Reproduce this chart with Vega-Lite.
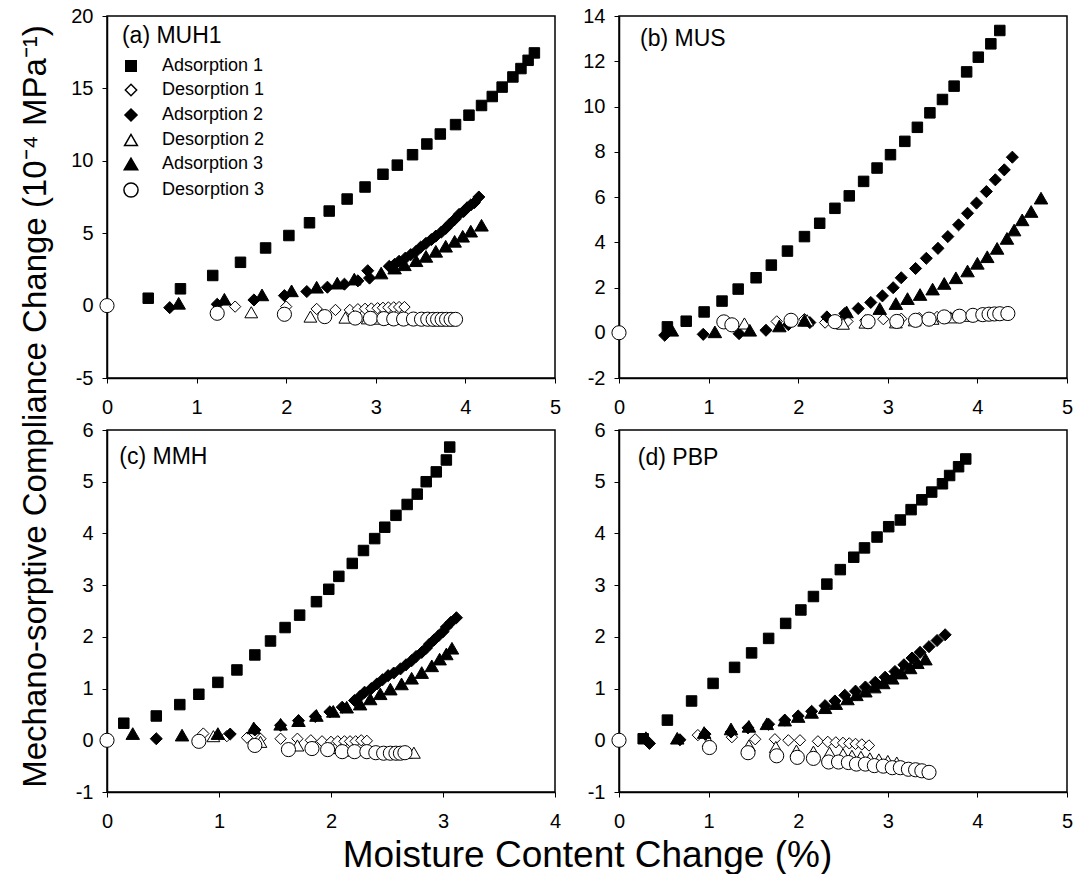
{
"$schema": "https://vega.github.io/schema/vega-lite/v6.json",
"padding": {"left": 18, "top": 5, "right": 0, "bottom": 0},
"datasets": {
"a": [
{"s":"Adsorption 1","x":0.46,"y":0.51},{"s":"Adsorption 1","x":0.82,"y":1.16},{"s":"Adsorption 1","x":1.18,"y":2.08},{"s":"Adsorption 1","x":1.49,"y":2.99},{"s":"Adsorption 1","x":1.77,"y":3.98},{"s":"Adsorption 1","x":2.03,"y":4.84},{"s":"Adsorption 1","x":2.26,"y":5.72},{"s":"Adsorption 1","x":2.48,"y":6.53},{"s":"Adsorption 1","x":2.68,"y":7.36},{"s":"Adsorption 1","x":2.88,"y":8.19},{"s":"Adsorption 1","x":3.08,"y":9.07},{"s":"Adsorption 1","x":3.24,"y":9.7},{"s":"Adsorption 1","x":3.41,"y":10.42},{"s":"Adsorption 1","x":3.57,"y":11.16},{"s":"Adsorption 1","x":3.72,"y":11.85},{"s":"Adsorption 1","x":3.89,"y":12.5},{"s":"Adsorption 1","x":4.04,"y":13.15},{"s":"Adsorption 1","x":4.18,"y":13.82},{"s":"Adsorption 1","x":4.3,"y":14.44},{"s":"Adsorption 1","x":4.41,"y":15.09},{"s":"Adsorption 1","x":4.53,"y":15.79},{"s":"Adsorption 1","x":4.62,"y":16.37},{"s":"Adsorption 1","x":4.7,"y":16.94},{"s":"Adsorption 1","x":4.77,"y":17.45},
{"s":"Desorption 1","x":1.43,"y":-0.07},{"s":"Desorption 1","x":2.0,"y":-0.07},{"s":"Desorption 1","x":2.34,"y":-0.23},{"s":"Desorption 1","x":2.55,"y":-0.3},{"s":"Desorption 1","x":2.71,"y":-0.3},{"s":"Desorption 1","x":2.8,"y":-0.25},{"s":"Desorption 1","x":2.88,"y":-0.22},{"s":"Desorption 1","x":2.95,"y":-0.2},{"s":"Desorption 1","x":3.02,"y":-0.18},{"s":"Desorption 1","x":3.08,"y":-0.15},{"s":"Desorption 1","x":3.14,"y":-0.13},{"s":"Desorption 1","x":3.2,"y":-0.12},{"s":"Desorption 1","x":3.26,"y":-0.1},{"s":"Desorption 1","x":3.32,"y":-0.1},
{"s":"Adsorption 2","x":0.7,"y":-0.14},{"s":"Adsorption 2","x":1.23,"y":0.09},{"s":"Adsorption 2","x":1.64,"y":0.39},{"s":"Adsorption 2","x":1.98,"y":0.69},{"s":"Adsorption 2","x":2.23,"y":0.97},{"s":"Adsorption 2","x":2.46,"y":1.27},{"s":"Adsorption 2","x":2.65,"y":1.48},{"s":"Adsorption 2","x":2.8,"y":1.71},{"s":"Adsorption 2","x":2.91,"y":2.41},{"s":"Adsorption 2","x":2.93,"y":1.9},{"s":"Adsorption 2","x":3.15,"y":2.71},{"s":"Adsorption 2","x":3.21,"y":2.85},{"s":"Adsorption 2","x":3.26,"y":3.06},{"s":"Adsorption 2","x":3.33,"y":3.28},{"s":"Adsorption 2","x":3.39,"y":3.52},{"s":"Adsorption 2","x":3.45,"y":3.75},{"s":"Adsorption 2","x":3.5,"y":4.03},{"s":"Adsorption 2","x":3.56,"y":4.3},{"s":"Adsorption 2","x":3.62,"y":4.56},{"s":"Adsorption 2","x":3.67,"y":4.8},{"s":"Adsorption 2","x":3.73,"y":5.07},{"s":"Adsorption 2","x":3.78,"y":5.33},{"s":"Adsorption 2","x":3.82,"y":5.6},{"s":"Adsorption 2","x":3.88,"y":5.95},{"s":"Adsorption 2","x":3.93,"y":6.3},{"s":"Adsorption 2","x":3.98,"y":6.5},{"s":"Adsorption 2","x":4.02,"y":6.76},{"s":"Adsorption 2","x":4.06,"y":6.95},{"s":"Adsorption 2","x":4.1,"y":7.11},{"s":"Adsorption 2","x":4.15,"y":7.5},
{"s":"Desorption 2","x":1.61,"y":-0.46},{"s":"Desorption 2","x":2.27,"y":-0.76},{"s":"Desorption 2","x":2.66,"y":-0.83},{"s":"Desorption 2","x":2.91,"y":-0.88},{"s":"Desorption 2","x":3.05,"y":-0.9},{"s":"Desorption 2","x":3.18,"y":-0.9},{"s":"Desorption 2","x":3.3,"y":-0.92},{"s":"Desorption 2","x":3.42,"y":-0.93},{"s":"Desorption 2","x":3.52,"y":-0.93},{"s":"Desorption 2","x":3.6,"y":-0.94},{"s":"Desorption 2","x":3.68,"y":-0.94},{"s":"Desorption 2","x":3.75,"y":-0.95},{"s":"Desorption 2","x":3.82,"y":-0.95},
{"s":"Adsorption 3","x":0.8,"y":0.16},{"s":"Adsorption 3","x":1.31,"y":0.44},{"s":"Adsorption 3","x":1.73,"y":0.74},{"s":"Adsorption 3","x":2.06,"y":1.02},{"s":"Adsorption 3","x":2.34,"y":1.27},{"s":"Adsorption 3","x":2.57,"y":1.55},{"s":"Adsorption 3","x":2.76,"y":1.83},{"s":"Adsorption 3","x":3.06,"y":2.25},{"s":"Adsorption 3","x":3.21,"y":2.59},{"s":"Adsorption 3","x":3.32,"y":2.82},{"s":"Adsorption 3","x":3.45,"y":3.1},{"s":"Adsorption 3","x":3.56,"y":3.4},{"s":"Adsorption 3","x":3.67,"y":3.75},{"s":"Adsorption 3","x":3.78,"y":4.1},{"s":"Adsorption 3","x":3.88,"y":4.44},{"s":"Adsorption 3","x":3.97,"y":4.79},{"s":"Adsorption 3","x":4.06,"y":5.14},{"s":"Adsorption 3","x":4.18,"y":5.55},
{"s":"Desorption 3","x":0,"y":0},{"s":"Desorption 3","x":1.23,"y":-0.53},{"s":"Desorption 3","x":1.98,"y":-0.6},{"s":"Desorption 3","x":2.43,"y":-0.76},{"s":"Desorption 3","x":2.77,"y":-0.86},{"s":"Desorption 3","x":2.94,"y":-0.88},{"s":"Desorption 3","x":3.09,"y":-0.9},{"s":"Desorption 3","x":3.2,"y":-0.92},{"s":"Desorption 3","x":3.31,"y":-0.93},{"s":"Desorption 3","x":3.42,"y":-0.93},{"s":"Desorption 3","x":3.51,"y":-0.94},{"s":"Desorption 3","x":3.58,"y":-0.94},{"s":"Desorption 3","x":3.64,"y":-0.95},{"s":"Desorption 3","x":3.69,"y":-0.95},{"s":"Desorption 3","x":3.74,"y":-0.95},{"s":"Desorption 3","x":3.79,"y":-0.95},{"s":"Desorption 3","x":3.84,"y":-0.95},{"s":"Desorption 3","x":3.89,"y":-0.95}
],
"b": [
{"s":"Adsorption 1","x":0.54,"y":0.26},{"s":"Adsorption 1","x":0.75,"y":0.51},{"s":"Adsorption 1","x":0.95,"y":0.92},{"s":"Adsorption 1","x":1.15,"y":1.4},{"s":"Adsorption 1","x":1.33,"y":1.93},{"s":"Adsorption 1","x":1.53,"y":2.43},{"s":"Adsorption 1","x":1.7,"y":2.99},{"s":"Adsorption 1","x":1.88,"y":3.61},{"s":"Adsorption 1","x":2.07,"y":4.25},{"s":"Adsorption 1","x":2.24,"y":4.84},{"s":"Adsorption 1","x":2.41,"y":5.5},{"s":"Adsorption 1","x":2.57,"y":6.05},{"s":"Adsorption 1","x":2.73,"y":6.69},{"s":"Adsorption 1","x":2.88,"y":7.28},{"s":"Adsorption 1","x":3.03,"y":7.87},{"s":"Adsorption 1","x":3.19,"y":8.46},{"s":"Adsorption 1","x":3.33,"y":9.08},{"s":"Adsorption 1","x":3.47,"y":9.72},{"s":"Adsorption 1","x":3.61,"y":10.31},{"s":"Adsorption 1","x":3.74,"y":10.9},{"s":"Adsorption 1","x":3.88,"y":11.53},{"s":"Adsorption 1","x":4.01,"y":12.18},{"s":"Adsorption 1","x":4.15,"y":12.77},{"s":"Adsorption 1","x":4.25,"y":13.36},
{"s":"Desorption 1","x":1.76,"y":0.5},{"s":"Desorption 1","x":2.07,"y":0.6},{"s":"Desorption 1","x":2.3,"y":0.45},{"s":"Desorption 1","x":2.55,"y":0.5},{"s":"Desorption 1","x":2.75,"y":0.55},{"s":"Desorption 1","x":2.95,"y":0.6},{"s":"Desorption 1","x":3.15,"y":0.62},{"s":"Desorption 1","x":3.35,"y":0.65},{"s":"Desorption 1","x":3.55,"y":0.7},{"s":"Desorption 1","x":3.75,"y":0.72},{"s":"Desorption 1","x":3.95,"y":0.77},{"s":"Desorption 1","x":4.1,"y":0.8},{"s":"Desorption 1","x":4.2,"y":0.82},{"s":"Desorption 1","x":4.3,"y":0.85},
{"s":"Adsorption 2","x":0.51,"y":-0.11},{"s":"Adsorption 2","x":0.94,"y":-0.07},{"s":"Adsorption 2","x":1.34,"y":-0.04},{"s":"Adsorption 2","x":1.64,"y":0.11},{"s":"Adsorption 2","x":1.89,"y":0.36},{"s":"Adsorption 2","x":2.13,"y":0.45},{"s":"Adsorption 2","x":2.32,"y":0.7},{"s":"Adsorption 2","x":2.52,"y":0.85},{"s":"Adsorption 2","x":2.67,"y":1.07},{"s":"Adsorption 2","x":2.81,"y":1.34},{"s":"Adsorption 2","x":2.94,"y":1.63},{"s":"Adsorption 2","x":3.06,"y":1.99},{"s":"Adsorption 2","x":3.15,"y":2.43},{"s":"Adsorption 2","x":3.31,"y":2.84},{"s":"Adsorption 2","x":3.43,"y":3.29},{"s":"Adsorption 2","x":3.56,"y":3.73},{"s":"Adsorption 2","x":3.67,"y":4.25},{"s":"Adsorption 2","x":3.79,"y":4.77},{"s":"Adsorption 2","x":3.89,"y":5.28},{"s":"Adsorption 2","x":3.99,"y":5.73},{"s":"Adsorption 2","x":4.1,"y":6.24},{"s":"Adsorption 2","x":4.2,"y":6.76},{"s":"Adsorption 2","x":4.3,"y":7.2},{"s":"Adsorption 2","x":4.39,"y":7.76},
{"s":"Desorption 2","x":1.4,"y":0.41},{"s":"Desorption 2","x":2.1,"y":0.55},{"s":"Desorption 2","x":2.5,"y":0.4},{"s":"Desorption 2","x":2.75,"y":0.45},{"s":"Desorption 2","x":3.09,"y":0.46},{"s":"Desorption 2","x":3.3,"y":0.55},{"s":"Desorption 2","x":3.5,"y":0.62},{"s":"Desorption 2","x":3.7,"y":0.68},{"s":"Desorption 2","x":3.9,"y":0.75},{"s":"Desorption 2","x":4.05,"y":0.78},{"s":"Desorption 2","x":4.15,"y":0.8},{"s":"Desorption 2","x":4.25,"y":0.82},
{"s":"Adsorption 3","x":0.59,"y":0.11},{"s":"Adsorption 3","x":1.07,"y":0.04},{"s":"Adsorption 3","x":1.46,"y":0.11},{"s":"Adsorption 3","x":1.79,"y":0.3},{"s":"Adsorption 3","x":2.07,"y":0.55},{"s":"Adsorption 3","x":2.54,"y":0.92},{"s":"Adsorption 3","x":2.91,"y":1.07},{"s":"Adsorption 3","x":3.09,"y":1.29},{"s":"Adsorption 3","x":3.22,"y":1.51},{"s":"Adsorption 3","x":3.36,"y":1.69},{"s":"Adsorption 3","x":3.5,"y":1.93},{"s":"Adsorption 3","x":3.63,"y":2.18},{"s":"Adsorption 3","x":3.76,"y":2.43},{"s":"Adsorption 3","x":3.89,"y":2.73},{"s":"Adsorption 3","x":4.0,"y":3.07},{"s":"Adsorption 3","x":4.11,"y":3.36},{"s":"Adsorption 3","x":4.22,"y":3.73},{"s":"Adsorption 3","x":4.33,"y":4.17},{"s":"Adsorption 3","x":4.41,"y":4.54},{"s":"Adsorption 3","x":4.5,"y":4.99},{"s":"Adsorption 3","x":4.6,"y":5.36},{"s":"Adsorption 3","x":4.71,"y":5.95},
{"s":"Desorption 3","x":0,"y":0},{"s":"Desorption 3","x":1.17,"y":0.48},{"s":"Desorption 3","x":1.26,"y":0.35},{"s":"Desorption 3","x":1.92,"y":0.55},{"s":"Desorption 3","x":2.41,"y":0.49},{"s":"Desorption 3","x":2.78,"y":0.49},{"s":"Desorption 3","x":3.1,"y":0.5},{"s":"Desorption 3","x":3.31,"y":0.55},{"s":"Desorption 3","x":3.46,"y":0.6},{"s":"Desorption 3","x":3.63,"y":0.7},{"s":"Desorption 3","x":3.8,"y":0.73},{"s":"Desorption 3","x":3.95,"y":0.77},{"s":"Desorption 3","x":4.06,"y":0.8},{"s":"Desorption 3","x":4.13,"y":0.82},{"s":"Desorption 3","x":4.19,"y":0.83},{"s":"Desorption 3","x":4.25,"y":0.84},{"s":"Desorption 3","x":4.34,"y":0.85}
],
"c": [
{"s":"Adsorption 1","x":0.15,"y":0.33},{"s":"Adsorption 1","x":0.44,"y":0.47},{"s":"Adsorption 1","x":0.65,"y":0.69},{"s":"Adsorption 1","x":0.82,"y":0.89},{"s":"Adsorption 1","x":0.99,"y":1.12},{"s":"Adsorption 1","x":1.16,"y":1.36},{"s":"Adsorption 1","x":1.32,"y":1.65},{"s":"Adsorption 1","x":1.46,"y":1.92},{"s":"Adsorption 1","x":1.59,"y":2.18},{"s":"Adsorption 1","x":1.72,"y":2.42},{"s":"Adsorption 1","x":1.87,"y":2.68},{"s":"Adsorption 1","x":1.98,"y":2.92},{"s":"Adsorption 1","x":2.07,"y":3.17},{"s":"Adsorption 1","x":2.19,"y":3.42},{"s":"Adsorption 1","x":2.29,"y":3.67},{"s":"Adsorption 1","x":2.39,"y":3.9},{"s":"Adsorption 1","x":2.48,"y":4.12},{"s":"Adsorption 1","x":2.58,"y":4.35},{"s":"Adsorption 1","x":2.68,"y":4.56},{"s":"Adsorption 1","x":2.77,"y":4.76},{"s":"Adsorption 1","x":2.85,"y":5.0},{"s":"Adsorption 1","x":2.94,"y":5.19},{"s":"Adsorption 1","x":3.03,"y":5.42},{"s":"Adsorption 1","x":3.06,"y":5.67},
{"s":"Desorption 1","x":0.86,"y":0.13},{"s":"Desorption 1","x":1.07,"y":0.08},{"s":"Desorption 1","x":1.25,"y":0.05},{"s":"Desorption 1","x":1.37,"y":0.03},{"s":"Desorption 1","x":1.55,"y":0.03},{"s":"Desorption 1","x":1.7,"y":0.03},{"s":"Desorption 1","x":1.82,"y":0.0},{"s":"Desorption 1","x":1.92,"y":-0.02},{"s":"Desorption 1","x":2.0,"y":-0.03},{"s":"Desorption 1","x":2.06,"y":-0.02},{"s":"Desorption 1","x":2.12,"y":-0.02},{"s":"Desorption 1","x":2.17,"y":-0.02},{"s":"Desorption 1","x":2.22,"y":-0.02},{"s":"Desorption 1","x":2.27,"y":0.0},{"s":"Desorption 1","x":2.32,"y":-0.01},
{"s":"Adsorption 2","x":0.44,"y":0.03},{"s":"Adsorption 2","x":1.1,"y":0.12},{"s":"Adsorption 2","x":1.32,"y":0.2},{"s":"Adsorption 2","x":1.55,"y":0.29},{"s":"Adsorption 2","x":1.71,"y":0.38},{"s":"Adsorption 2","x":1.86,"y":0.46},{"s":"Adsorption 2","x":1.99,"y":0.55},{"s":"Adsorption 2","x":2.1,"y":0.64},{"s":"Adsorption 2","x":2.21,"y":0.77},{"s":"Adsorption 2","x":2.26,"y":0.85},{"s":"Adsorption 2","x":2.3,"y":0.93},{"s":"Adsorption 2","x":2.36,"y":1.0},{"s":"Adsorption 2","x":2.41,"y":1.09},{"s":"Adsorption 2","x":2.46,"y":1.17},{"s":"Adsorption 2","x":2.51,"y":1.25},{"s":"Adsorption 2","x":2.56,"y":1.3},{"s":"Adsorption 2","x":2.62,"y":1.38},{"s":"Adsorption 2","x":2.67,"y":1.46},{"s":"Adsorption 2","x":2.72,"y":1.54},{"s":"Adsorption 2","x":2.76,"y":1.62},{"s":"Adsorption 2","x":2.81,"y":1.7},{"s":"Adsorption 2","x":2.85,"y":1.78},{"s":"Adsorption 2","x":2.88,"y":1.86},{"s":"Adsorption 2","x":2.92,"y":1.94},{"s":"Adsorption 2","x":2.96,"y":2.02},{"s":"Adsorption 2","x":3.0,"y":2.1},{"s":"Adsorption 2","x":3.03,"y":2.19},{"s":"Adsorption 2","x":3.07,"y":2.28},{"s":"Adsorption 2","x":3.12,"y":2.37},
{"s":"Desorption 2","x":0.95,"y":0.08},{"s":"Desorption 2","x":1.37,"y":-0.03},{"s":"Desorption 2","x":1.7,"y":-0.1},{"s":"Desorption 2","x":2.0,"y":-0.15},{"s":"Desorption 2","x":2.2,"y":-0.2},{"s":"Desorption 2","x":2.35,"y":-0.22},{"s":"Desorption 2","x":2.5,"y":-0.24},{"s":"Desorption 2","x":2.6,"y":-0.24},{"s":"Desorption 2","x":2.67,"y":-0.24},{"s":"Desorption 2","x":2.74,"y":-0.24},
{"s":"Adsorption 3","x":0.23,"y":0.13},{"s":"Adsorption 3","x":0.67,"y":0.1},{"s":"Adsorption 3","x":0.99,"y":0.13},{"s":"Adsorption 3","x":1.31,"y":0.24},{"s":"Adsorption 3","x":1.55,"y":0.31},{"s":"Adsorption 3","x":1.71,"y":0.38},{"s":"Adsorption 3","x":1.87,"y":0.48},{"s":"Adsorption 3","x":2.02,"y":0.56},{"s":"Adsorption 3","x":2.14,"y":0.64},{"s":"Adsorption 3","x":2.26,"y":0.7},{"s":"Adsorption 3","x":2.35,"y":0.8},{"s":"Adsorption 3","x":2.44,"y":0.9},{"s":"Adsorption 3","x":2.53,"y":0.99},{"s":"Adsorption 3","x":2.63,"y":1.09},{"s":"Adsorption 3","x":2.72,"y":1.2},{"s":"Adsorption 3","x":2.81,"y":1.31},{"s":"Adsorption 3","x":2.9,"y":1.44},{"s":"Adsorption 3","x":2.97,"y":1.57},{"s":"Adsorption 3","x":3.03,"y":1.67},{"s":"Adsorption 3","x":3.08,"y":1.78},
{"s":"Desorption 3","x":0,"y":0},{"s":"Desorption 3","x":0.82,"y":-0.02},{"s":"Desorption 3","x":1.32,"y":-0.1},{"s":"Desorption 3","x":1.62,"y":-0.18},{"s":"Desorption 3","x":1.83,"y":-0.16},{"s":"Desorption 3","x":1.97,"y":-0.18},{"s":"Desorption 3","x":2.1,"y":-0.22},{"s":"Desorption 3","x":2.21,"y":-0.22},{"s":"Desorption 3","x":2.32,"y":-0.22},{"s":"Desorption 3","x":2.4,"y":-0.24},{"s":"Desorption 3","x":2.47,"y":-0.25},{"s":"Desorption 3","x":2.53,"y":-0.25},{"s":"Desorption 3","x":2.58,"y":-0.25},{"s":"Desorption 3","x":2.62,"y":-0.25},{"s":"Desorption 3","x":2.66,"y":-0.24}
],
"d": [
{"s":"Adsorption 1","x":0.27,"y":0.03},{"s":"Adsorption 1","x":0.54,"y":0.39},{"s":"Adsorption 1","x":0.81,"y":0.76},{"s":"Adsorption 1","x":1.05,"y":1.1},{"s":"Adsorption 1","x":1.29,"y":1.41},{"s":"Adsorption 1","x":1.48,"y":1.69},{"s":"Adsorption 1","x":1.67,"y":1.97},{"s":"Adsorption 1","x":1.86,"y":2.26},{"s":"Adsorption 1","x":2.03,"y":2.52},{"s":"Adsorption 1","x":2.17,"y":2.78},{"s":"Adsorption 1","x":2.32,"y":3.02},{"s":"Adsorption 1","x":2.47,"y":3.3},{"s":"Adsorption 1","x":2.62,"y":3.54},{"s":"Adsorption 1","x":2.74,"y":3.72},{"s":"Adsorption 1","x":2.88,"y":3.93},{"s":"Adsorption 1","x":3.01,"y":4.13},{"s":"Adsorption 1","x":3.14,"y":4.26},{"s":"Adsorption 1","x":3.26,"y":4.46},{"s":"Adsorption 1","x":3.38,"y":4.65},{"s":"Adsorption 1","x":3.49,"y":4.8},{"s":"Adsorption 1","x":3.61,"y":4.96},{"s":"Adsorption 1","x":3.69,"y":5.12},{"s":"Adsorption 1","x":3.79,"y":5.29},{"s":"Adsorption 1","x":3.87,"y":5.44},
{"s":"Desorption 1","x":0.88,"y":0.1},{"s":"Desorption 1","x":1.26,"y":0.06},{"s":"Desorption 1","x":1.52,"y":0.02},{"s":"Desorption 1","x":1.74,"y":0.02},{"s":"Desorption 1","x":1.89,"y":0.0},{"s":"Desorption 1","x":2.02,"y":0.0},{"s":"Desorption 1","x":2.22,"y":-0.02},{"s":"Desorption 1","x":2.33,"y":-0.03},{"s":"Desorption 1","x":2.42,"y":-0.04},{"s":"Desorption 1","x":2.5,"y":-0.05},{"s":"Desorption 1","x":2.57,"y":-0.06},{"s":"Desorption 1","x":2.64,"y":-0.07},{"s":"Desorption 1","x":2.71,"y":-0.08},{"s":"Desorption 1","x":2.79,"y":-0.1},
{"s":"Adsorption 2","x":0.34,"y":-0.06},{"s":"Adsorption 2","x":0.68,"y":0.01},{"s":"Adsorption 2","x":0.96,"y":0.12},{"s":"Adsorption 2","x":1.25,"y":0.16},{"s":"Adsorption 2","x":1.44,"y":0.24},{"s":"Adsorption 2","x":1.67,"y":0.31},{"s":"Adsorption 2","x":1.85,"y":0.39},{"s":"Adsorption 2","x":2.0,"y":0.47},{"s":"Adsorption 2","x":2.15,"y":0.56},{"s":"Adsorption 2","x":2.3,"y":0.67},{"s":"Adsorption 2","x":2.41,"y":0.76},{"s":"Adsorption 2","x":2.52,"y":0.87},{"s":"Adsorption 2","x":2.64,"y":0.95},{"s":"Adsorption 2","x":2.75,"y":1.03},{"s":"Adsorption 2","x":2.86,"y":1.12},{"s":"Adsorption 2","x":2.97,"y":1.22},{"s":"Adsorption 2","x":3.08,"y":1.33},{"s":"Adsorption 2","x":3.18,"y":1.46},{"s":"Adsorption 2","x":3.27,"y":1.59},{"s":"Adsorption 2","x":3.36,"y":1.7},{"s":"Adsorption 2","x":3.46,"y":1.81},{"s":"Adsorption 2","x":3.55,"y":1.93},{"s":"Adsorption 2","x":3.64,"y":2.04},
{"s":"Desorption 2","x":1.0,"y":-0.02},{"s":"Desorption 2","x":1.45,"y":-0.1},{"s":"Desorption 2","x":1.75,"y":-0.13},{"s":"Desorption 2","x":1.98,"y":-0.2},{"s":"Desorption 2","x":2.17,"y":-0.22},{"s":"Desorption 2","x":2.35,"y":-0.24},{"s":"Desorption 2","x":2.5,"y":-0.27},{"s":"Desorption 2","x":2.6,"y":-0.3},{"s":"Desorption 2","x":2.7,"y":-0.32},{"s":"Desorption 2","x":2.8,"y":-0.35},{"s":"Desorption 2","x":2.9,"y":-0.37},{"s":"Desorption 2","x":3.0,"y":-0.4},{"s":"Desorption 2","x":3.1,"y":-0.43},
{"s":"Adsorption 3","x":0.3,"y":0.05},{"s":"Adsorption 3","x":0.65,"y":0.04},{"s":"Adsorption 3","x":0.95,"y":0.15},{"s":"Adsorption 3","x":1.25,"y":0.22},{"s":"Adsorption 3","x":1.45,"y":0.27},{"s":"Adsorption 3","x":1.65,"y":0.32},{"s":"Adsorption 3","x":1.85,"y":0.39},{"s":"Adsorption 3","x":2.0,"y":0.46},{"s":"Adsorption 3","x":2.15,"y":0.54},{"s":"Adsorption 3","x":2.3,"y":0.63},{"s":"Adsorption 3","x":2.42,"y":0.71},{"s":"Adsorption 3","x":2.55,"y":0.8},{"s":"Adsorption 3","x":2.65,"y":0.88},{"s":"Adsorption 3","x":2.75,"y":0.95},{"s":"Adsorption 3","x":2.85,"y":1.03},{"s":"Adsorption 3","x":2.95,"y":1.11},{"s":"Adsorption 3","x":3.05,"y":1.2},{"s":"Adsorption 3","x":3.15,"y":1.3},{"s":"Adsorption 3","x":3.25,"y":1.4},{"s":"Adsorption 3","x":3.33,"y":1.5},{"s":"Adsorption 3","x":3.42,"y":1.57},
{"s":"Desorption 3","x":0,"y":0},{"s":"Desorption 3","x":1.01,"y":-0.14},{"s":"Desorption 3","x":1.44,"y":-0.24},{"s":"Desorption 3","x":1.76,"y":-0.3},{"s":"Desorption 3","x":1.99,"y":-0.33},{"s":"Desorption 3","x":2.17,"y":-0.35},{"s":"Desorption 3","x":2.34,"y":-0.42},{"s":"Desorption 3","x":2.45,"y":-0.42},{"s":"Desorption 3","x":2.56,"y":-0.43},{"s":"Desorption 3","x":2.65,"y":-0.46},{"s":"Desorption 3","x":2.75,"y":-0.46},{"s":"Desorption 3","x":2.85,"y":-0.49},{"s":"Desorption 3","x":2.95,"y":-0.5},{"s":"Desorption 3","x":3.05,"y":-0.53},{"s":"Desorption 3","x":3.14,"y":-0.53},{"s":"Desorption 3","x":3.23,"y":-0.56},{"s":"Desorption 3","x":3.31,"y":-0.57},{"s":"Desorption 3","x":3.38,"y":-0.59},{"s":"Desorption 3","x":3.46,"y":-0.62}
]
},
"columns": 2,
"spacing": {"row": 52, "column": 64},
"bounds": "flush",
"resolve": {"scale": {"shape": "independent", "fill": "independent", "size": "independent", "stroke": "independent"}, "legend": {"shape": "independent", "fill": "independent", "size": "independent", "stroke": "independent"}},
"concat": [
{"width": 448, "height": 362,
 "layer": [
  {"data": {"name": "a"}, "mark": {"type": "point", "filled": false, "strokeWidth": 1, "opacity": 1},
   "encoding": {
    "x": {"field": "x", "type": "quantitative", "scale": {"domain": [0, 5], "nice": false, "zero": false}, "axis": {"values": [0, 1, 2, 3, 4, 5], "title": null}},
    "y": {"field": "y", "type": "quantitative", "scale": {"domain": [-5, 20], "nice": false, "zero": false}, "axis": {"values": [-5, 0, 5, 10, 15, 20], "title": "Mechano-sorptive Compliance Change (10⁻⁴ MPa⁻¹)", "titleX": -62, "titleY": 390, "titleFontSize": 33, "titleAlign": "center", "titleBaseline": "alphabetic", "titleAngle": 270}},
    "shape": {"field": "s", "type": "nominal", "scale": {"domain": ["Adsorption 1", "Desorption 1", "Adsorption 2", "Desorption 2", "Adsorption 3", "Desorption 3"], "range": ["square", "diamond", "diamond", "triangle-up", "triangle-up", "circle"]},
      "legend": {"orient": "none", "legendX": 15, "legendY": 41, "title": null, "labelFontSize": 18, "labelFont": "Liberation Sans", "labelColor": "black", "symbolSize": 90, "labelOffset": 22, "rowPadding": 6, "padding": 0, "encode": {"symbols": {"update": {"size": {"value": 95}, "strokeWidth": {"value": 1}}}}}},
    "fill": {"field": "s", "type": "nominal", "scale": {"domain": ["Adsorption 1", "Desorption 1", "Adsorption 2", "Desorption 2", "Adsorption 3", "Desorption 3"], "range": ["black", "white", "black", "white", "black", "white"]},
      "legend": {"orient": "none", "legendX": 15, "legendY": 41, "title": null, "labelFontSize": 18, "labelFont": "Liberation Sans", "labelColor": "black", "symbolSize": 90, "labelOffset": 22, "rowPadding": 6, "padding": 0, "encode": {"symbols": {"update": {"size": {"value": 95}, "strokeWidth": {"value": 1}}}}}},
    "stroke": {"field": "s", "type": "nominal", "scale": {"domain": ["Adsorption 1", "Desorption 1", "Adsorption 2", "Desorption 2", "Adsorption 3", "Desorption 3"], "range": ["black", "black", "black", "black", "black", "black"]},
      "legend": {"orient": "none", "legendX": 15, "legendY": 41, "title": null, "labelFontSize": 18, "labelFont": "Liberation Sans", "labelColor": "black", "symbolSize": 90, "labelOffset": 22, "rowPadding": 6, "padding": 0, "encode": {"symbols": {"update": {"size": {"value": 95}, "strokeWidth": {"value": 1}}}}}},
    "size": {"field": "s", "type": "nominal", "scale": {"domain": ["Adsorption 1", "Desorption 1", "Adsorption 2", "Desorption 2", "Adsorption 3", "Desorption 3"], "range": [110, 200, 200, 150, 150, 110]},
      "legend": {"orient": "none", "legendX": 15, "legendY": 41, "title": null, "labelFontSize": 18, "labelFont": "Liberation Sans", "labelColor": "black", "symbolSize": 90, "labelOffset": 22, "rowPadding": 6, "padding": 0, "encode": {"symbols": {"update": {"size": {"value": 95}, "strokeWidth": {"value": 1}}}}}}
   }},
  {"data": {"values": [{"label": "(a) MUH1"}]}, "mark": {"type": "text", "align": "left", "baseline": "alphabetic", "fontSize": 23, "font": "Liberation Sans", "color": "black"},
   "encoding": {"x": {"datum": 0.167}, "y": {"datum": 18.13}, "text": {"field": "label", "type": "nominal"}}}
 ]},
{"width": 448, "height": 362,
 "layer": [
  {"data": {"name": "b"}, "mark": {"type": "point", "filled": false, "stroke": "black", "strokeWidth": 1, "opacity": 1},
   "encoding": {
    "x": {"field": "x", "type": "quantitative", "scale": {"domain": [0, 5], "nice": false, "zero": false}, "axis": {"values": [0, 1, 2, 3, 4, 5], "title": null}},
    "y": {"field": "y", "type": "quantitative", "scale": {"domain": [-2, 14], "nice": false, "zero": false}, "axis": {"values": [-2, 0, 2, 4, 6, 8, 10, 12, 14], "title": null}},
    "shape": {"field": "s", "type": "nominal", "scale": {"domain": ["Adsorption 1", "Desorption 1", "Adsorption 2", "Desorption 2", "Adsorption 3", "Desorption 3"], "range": ["square", "diamond", "diamond", "triangle-up", "triangle-up", "circle"]}, "legend": null},
    "fill": {"field": "s", "type": "nominal", "scale": {"domain": ["Adsorption 1", "Desorption 1", "Adsorption 2", "Desorption 2", "Adsorption 3", "Desorption 3"], "range": ["black", "white", "black", "white", "black", "white"]}, "legend": null},
    "size": {"field": "s", "type": "nominal", "scale": {"domain": ["Adsorption 1", "Desorption 1", "Adsorption 2", "Desorption 2", "Adsorption 3", "Desorption 3"], "range": [110, 200, 200, 150, 150, 110]}, "legend": null}
   }},
  {"data": {"values": [{"label": "(b) MUS"}]}, "mark": {"type": "text", "align": "left", "baseline": "alphabetic", "fontSize": 23, "font": "Liberation Sans", "color": "black"},
   "encoding": {"x": {"datum": 0.234}, "y": {"datum": 12.67}, "text": {"field": "label", "type": "nominal"}}}
 ]},
{"width": 448, "height": 362,
 "layer": [
  {"data": {"name": "c"}, "mark": {"type": "point", "filled": false, "stroke": "black", "strokeWidth": 1, "opacity": 1},
   "encoding": {
    "x": {"field": "x", "type": "quantitative", "scale": {"domain": [0, 4], "nice": false, "zero": false}, "axis": {"values": [0, 1, 2, 3, 4], "title": "Moisture Content Change (%)", "titleX": 480, "titleY": 74, "titleFontSize": 37, "titleAlign": "center", "titleBaseline": "alphabetic"}},
    "y": {"field": "y", "type": "quantitative", "scale": {"domain": [-1, 6], "nice": false, "zero": false}, "axis": {"values": [-1, 0, 1, 2, 3, 4, 5, 6], "title": null}},
    "shape": {"field": "s", "type": "nominal", "scale": {"domain": ["Adsorption 1", "Desorption 1", "Adsorption 2", "Desorption 2", "Adsorption 3", "Desorption 3"], "range": ["square", "diamond", "diamond", "triangle-up", "triangle-up", "circle"]}, "legend": null},
    "fill": {"field": "s", "type": "nominal", "scale": {"domain": ["Adsorption 1", "Desorption 1", "Adsorption 2", "Desorption 2", "Adsorption 3", "Desorption 3"], "range": ["black", "white", "black", "white", "black", "white"]}, "legend": null},
    "size": {"field": "s", "type": "nominal", "scale": {"domain": ["Adsorption 1", "Desorption 1", "Adsorption 2", "Desorption 2", "Adsorption 3", "Desorption 3"], "range": [110, 200, 200, 150, 150, 110]}, "legend": null}
   }},
  {"data": {"values": [{"label": "(c) MMH"}]}, "mark": {"type": "text", "align": "left", "baseline": "alphabetic", "fontSize": 23, "font": "Liberation Sans", "color": "black"},
   "encoding": {"x": {"datum": 0.11}, "y": {"datum": 5.35}, "text": {"field": "label", "type": "nominal"}}}
 ]},
{"width": 448, "height": 362,
 "layer": [
  {"data": {"name": "d"}, "mark": {"type": "point", "filled": false, "stroke": "black", "strokeWidth": 1, "opacity": 1},
   "encoding": {
    "x": {"field": "x", "type": "quantitative", "scale": {"domain": [0, 5], "nice": false, "zero": false}, "axis": {"values": [0, 1, 2, 3, 4, 5], "title": null}},
    "y": {"field": "y", "type": "quantitative", "scale": {"domain": [-1, 6], "nice": false, "zero": false}, "axis": {"values": [-1, 0, 1, 2, 3, 4, 5, 6], "title": null}},
    "shape": {"field": "s", "type": "nominal", "scale": {"domain": ["Adsorption 1", "Desorption 1", "Adsorption 2", "Desorption 2", "Adsorption 3", "Desorption 3"], "range": ["square", "diamond", "diamond", "triangle-up", "triangle-up", "circle"]}, "legend": null},
    "fill": {"field": "s", "type": "nominal", "scale": {"domain": ["Adsorption 1", "Desorption 1", "Adsorption 2", "Desorption 2", "Adsorption 3", "Desorption 3"], "range": ["black", "white", "black", "white", "black", "white"]}, "legend": null},
    "size": {"field": "s", "type": "nominal", "scale": {"domain": ["Adsorption 1", "Desorption 1", "Adsorption 2", "Desorption 2", "Adsorption 3", "Desorption 3"], "range": [110, 200, 200, 150, 150, 110]}, "legend": null}
   }},
  {"data": {"values": [{"label": "(d) PBP"}]}, "mark": {"type": "text", "align": "left", "baseline": "alphabetic", "fontSize": 23, "font": "Liberation Sans", "color": "black"},
   "encoding": {"x": {"datum": 0.21}, "y": {"datum": 5.32}, "text": {"field": "label", "type": "nominal"}}}
 ]}
],
"config": {
 "font": "Liberation Sans",
 "background": "white",
 "view": {"stroke": "black", "strokeWidth": 1.5},
 "axis": {"grid": false, "domainColor": "black", "domainWidth": 1.5, "tickColor": "black", "tickSize": 5, "tickWidth": 1, "labelColor": "black", "labelFontSize": 20, "labelFont": "Liberation Sans", "labelFlush": false, "labelOverlap": false, "labelExpr": "'' + datum.value", "titleColor": "black", "titleFontWeight": "normal", "titleFont": "Liberation Sans"},
 "axisX": {"labelPadding": 14},
 "axisY": {"labelPadding": 9}
}
}
